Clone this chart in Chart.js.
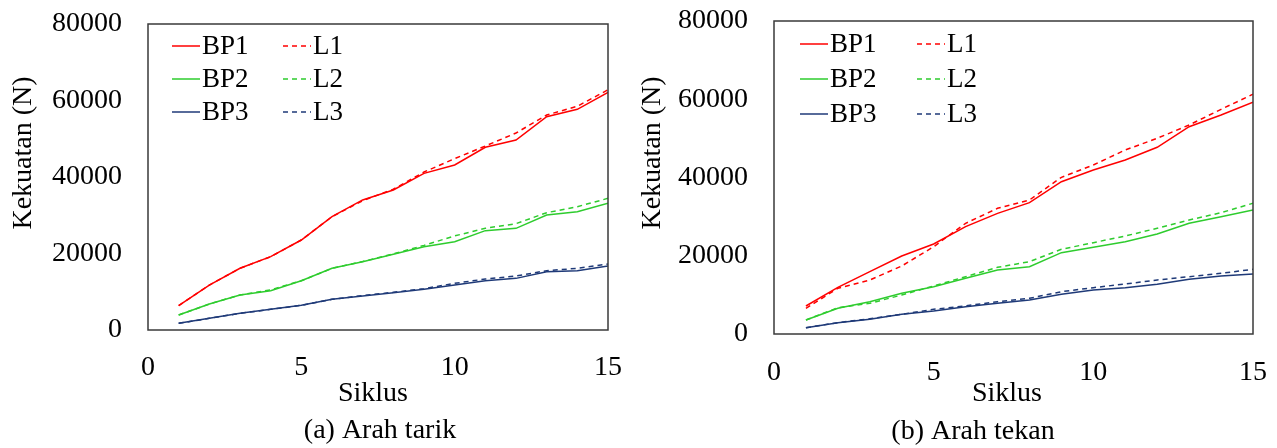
<!DOCTYPE html>
<html>
<head>
<meta charset="utf-8">
<script src="https://cdn.jsdelivr.net/npm/chart.js@4.4.1/dist/chart.umd.min.js"></script>
<style>
html,body{margin:0;padding:0;background:#fff;overflow:hidden;width:1277px;height:448px}
canvas{position:absolute;left:0;top:0}
</style>
</head>
<body>
<canvas id="c1" width="1277" height="448"></canvas>
<canvas id="c2" width="1277" height="448"></canvas>
<script>
// ---- data ----
const siklus = [1,2,3,4,5,6,7,8,9,10,11,12,13,14,15];
const xTickValues = [0,5,10,15];
const yTickValues = [0,20000,40000,60000,80000];
const seriesLabels = ['BP1','BP2','BP3','L1','L2','L3'];
const xTitle = 'Siklus';
const yTitle = 'Kekuatan (N)';

// (a) Arah tarik
const tarikBP1 = [6350,11760,16130,19170,23530,29620,34000,36600,40960,43140,47760,49670,55770,57690,62130];
const tarikBP2 = [3920,6800,9150,10280,12890,16120,17860,19780,21780,23090,25970,26580,30060,30940,33120];
const tarikBP3 = [1740,3050,4360,5400,6450,8020,8890,9760,10630,11760,12890,13500,15250,15510,16730];
const tarikL1  = [6350,11760,16130,19170,23530,29620,33800,36800,41300,44800,48100,51500,56200,58500,62800];
const tarikL2  = [3920,6800,9150,10500,12890,16120,17900,19900,22130,24600,26580,27800,30670,32240,34420];
const tarikL3  = [1740,3050,4360,5400,6450,8020,9000,9850,10810,12200,13330,14120,15510,16120,17250];

// (b) Arah tekan
const tekanBP1 = [7160,11930,15930,19940,23000,27430,30840,33570,38930,41920,44480,47720,52990,55980,59220];
const tekanBP2 = [3580,6560,8260,10400,12090,14230,16360,17210,20790,22150,23600,25560,28290,29990,31690];
const tekanBP3 = [1620,2900,3750,5030,5880,6990,7840,8690,10140,11250,11840,12700,13980,14820,15340];
const tekanL1  = [6560,11680,13800,17380,22310,28290,32120,34250,40050,43200,47030,50020,53420,57430,61270];
const tekanL2  = [3580,6700,7840,9970,12270,14650,17040,18480,21650,23340,25050,27020,29140,31000,33410];
const tekanL3  = [1620,2900,3900,5030,6310,7200,8260,9120,10820,11840,12780,13800,14650,15510,16540];

// ---- styles ----
const FONT = '"Liberation Serif", "Times New Roman", serif';
const RED = '#ff0000', GREEN = '#2ecc2e', NAVY = '#1f3a78';
const colors = [RED, GREEN, NAVY, RED, GREEN, NAVY];
const DASH = [5,4];

function buildDatasets(arrs){
  return arrs.map((vals, i) => ({
    label: seriesLabels[i],
    data: siklus.map((x, j) => ({x: x, y: vals[j]})),
    borderColor: colors[i],
    backgroundColor: colors[i],
    borderWidth: 1.5,
    borderDash: i >= 3 ? DASH : [],
    pointRadius: 0,
    tension: 0,
    fill: false
  }));
}

const panelPlugin = {
  id: 'panel',
  afterDraw(chart, args, o) {
    const {ctx, chartArea: a} = chart;
    ctx.save();
    // frame
    ctx.strokeStyle = '#3a3a3a';
    ctx.lineWidth = 1.5;
    ctx.setLineDash([]);
    ctx.strokeRect(a.left, a.top, a.right - a.left, a.bottom - a.top);
    // legend
    ctx.font = '27px ' + FONT;
    ctx.textBaseline = 'middle';
    ctx.textAlign = 'left';
    chart.data.datasets.forEach((ds, i) => {
      const col = Math.floor(i / 3), row = i % 3;
      const x0 = a.left + o.legX + col * o.legCol;
      const y0 = a.top + o.legY + row * o.legRow;
      ctx.strokeStyle = ds.borderColor;
      ctx.lineWidth = 1.5;
      ctx.setLineDash(ds.borderDash || []);
      ctx.beginPath();
      ctx.moveTo(x0, y0);
      ctx.lineTo(x0 + 28, y0);
      ctx.stroke();
      ctx.setLineDash([]);
      ctx.fillStyle = '#000';
      ctx.fillText(ds.label, x0 + 30, y0 + 1);
    });
    // axis titles & caption
    ctx.font = '28px ' + FONT;
    ctx.textAlign = 'center';
    ctx.fillStyle = '#000';
    ctx.fillText(xTitle, o.xtX, o.xtY);
    ctx.fillText(o.caption, o.capX, o.capY);
    ctx.save();
    ctx.translate(o.ytX, o.ytY);
    ctx.rotate(-Math.PI / 2);
    ctx.fillText(yTitle, 0, 0);
    ctx.restore();
    ctx.restore();
  }
};

function zeroPad(s){ s.paddingTop = 0; s.paddingBottom = 0; s.paddingLeft = 0; s.paddingRight = 0; }

function makeChart(id, arrs, g){
  return new Chart(document.getElementById(id), {
    type: 'line',
    data: { datasets: buildDatasets(arrs) },
    options: {
      responsive: false,
      animation: false,
      events: [],
      layout: { padding: g.pad },
      plugins: {
        legend: { display: false },
        tooltip: { enabled: false },
        panel: g.panel
      },
      scales: {
        x: {
          type: 'linear', min: 0, max: 15,
          afterBuildTicks: s => { s.ticks = xTickValues.map(v => ({value: v})); },
          afterFit: s => { s.height = g.xH; zeroPad(s); },
          grid: { display: false, drawTicks: false },
          border: { display: false },
          ticks: { font: {family: FONT, size: 28}, color: '#000', padding: g.xPad, maxRotation: 0, autoSkip: false }
        },
        y: {
          type: 'linear', min: 0, max: 80000,
          afterBuildTicks: s => { s.ticks = yTickValues.map(v => ({value: v})); },
          afterFit: s => { s.width = g.yW; zeroPad(s); },
          grid: { display: false, drawTicks: false },
          border: { display: false },
          ticks: { font: {family: FONT, size: 28}, color: '#000', padding: 26, callback: v => String(v) }
        }
      }
    },
    plugins: [panelPlugin]
  });
}

makeChart('c1', [tarikBP1, tarikBP2, tarikBP3, tarikL1, tarikL2, tarikL3], {
  pad: {left: 0, right: 669, top: 24, bottom: 37},
  xH: 81, yW: 148, xPad: 21,
  panel: {caption: '(a) Arah tarik', capX: 380, capY: 431, xtX: 373, xtY: 394, ytX: 24, ytY: 153,
          legX: 24, legCol: 111, legY: 22, legRow: 33}
});

makeChart('c2', [tekanBP1, tekanBP2, tekanBP3, tekanL1, tekanL2, tekanL3], {
  pad: {left: 630, right: 24, top: 21, bottom: 37},
  xH: 77, yW: 144, xPad: 22,
  panel: {caption: '(b) Arah tekan', capX: 973, capY: 432, xtX: 1007, xtY: 394, ytX: 653, ytY: 153,
          legX: 26, legCol: 117, legY: 23, legRow: 35}
});
</script>
</body>
</html>
